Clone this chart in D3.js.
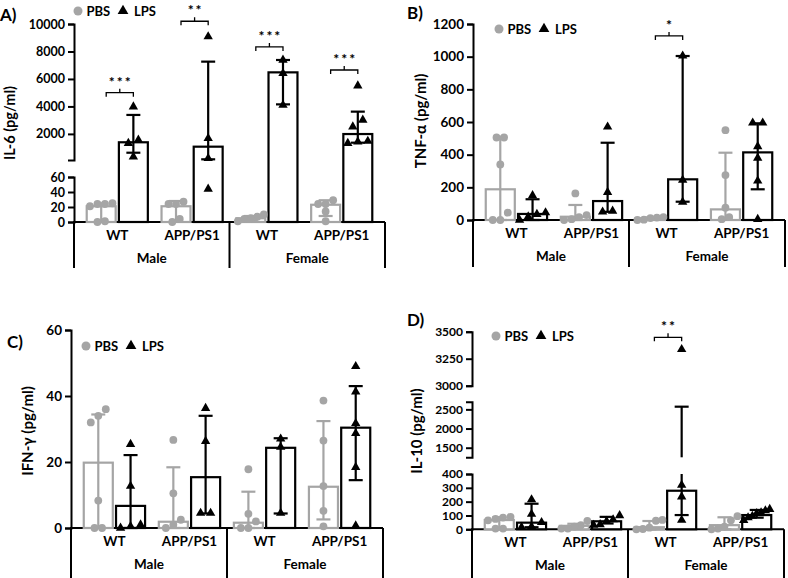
<!DOCTYPE html>
<html><head><meta charset="utf-8">
<script src="https://cdn.jsdelivr.net/npm/d3@7/dist/d3.min.js"></script>
<style>
body{margin:0;background:#fff}
svg{display:block}
text{font-family:Lato,"Open Sans","DejaVu Sans",sans-serif;font-weight:700}
</style></head><body>
<svg id="c" width="788" height="578"></svg>
<script>
// ---------- DATA ----------
const groupNames = ["WT","APP/PS1","WT","APP/PS1"];
const sexNames = ["Male","Female"];
const treatNames = ["PBS","LPS"];

// A) IL-6
const il6PBS = [21, 21, 5, 23];
const il6PBSErr = [[0,25],[2,28],[2,8],[8,29]];
const il6PBSPts = [[21,25,24,24,1,0],[24,27,24,0,4],[10,7,5,4,1],[24,29,24,14,1]];
const il6LPS = [1390, 1070, 6480, 1990];
const il6LPSErr = [[630,3380],[150,7260],[4150,7380],[1360,3620]];
const il6LPSPts = [[3980,1560,1320,340],[9080,1680,224,44],[7380,6410,4100],[5510,3010,2520,1320,1430,1480]];
const il6Sig = [[0,"***",5000],[1,"**",10200],[2,"***",8330],[3,"***",6650]];
const il6TicksLow = [0,20,40,60];
const il6TicksHigh = [2000,4000,6000,8000,10000];

// B) TNF-alpha
const tnfPBS = [188, 20, 10, 65];
const tnfPBSErr = [[0,510],[0,92],[2,16],[10,412]];
const tnfPBSPts = [[505,505,340,45,0,0],[163,30,18,5,0],[18,15,12,2,0],[550,275,75,18,5]];
const tnfLPS = [37, 116, 249, 414];
const tnfLPSErr = [[0,127],[50,473],[112,1004],[188,592]];
const tnfLPSPts = [[150,45,35,20,0],[570,170,55,50],[1005,245,110],[595,595,450,380,240,5]];
const tnfSig = [[2,"*",1127]];
const tnfTicks = [0,200,400,600,800,1000,1200];

// C) IFN-gamma
const ifnPBS = [19.8, 1.9, 1.6, 12.5];
const ifnPBSErr = [[0,34.4],[0,18.4],[0,11],[2.6,32.4]];
const ifnPBSPts = [[36,34,32,8.3,0,0],[26.7,10.5,2.5,1,0],[17.8,4.3,2,0,0],[38.6,26.5,12.7,5.2,0.5]];
const ifnLPS = [6.7, 15.4, 24.3, 30.4];
const ifnLPSErr = [[0,22.1],[4.4,34],[4.4,27.2],[14.5,43]];
const ifnLPSPts = [[25.4,12.7,1,0.5,0],[36.3,26.3,4.5,4.5],[27,24.5,4.5],[49,41.3,31.7,28.7,18.4,0.7]];
const ifnSig = [];
const ifnTicks = [0,20,40,60];

// D) IL-10
const il10PBS = [67, 25, 15, 30];
const il10PBSErr = [[0,88],[5,40],[0,60],[0,87]];
const il10PBSPts = [[75,90,65,85,5,5],[60,30,20,5,5],[68,62,12,2,0],[95,65,20,5,0]];
const il10LPS = [48, 58, 279, 103];
const il10LPSErr = [[15,185],[42,90],[103,2570],[84,140]];
const il10LPSPts = [[215,110,50,20,15],[100,70,58,35,30],[3337,320,236,67],[145,135,120,115,95,85,65]];
const il10Sig = [[2,"**",3448]];
const il10TicksLow = [0,100,200,300,400];
const il10TicksMid = [1500,2000,2500];
const il10TicksHigh = [3000,3250,3500];

// ---------- LAYOUT ----------
const panels = [
  {title:"A)", tx:0, ty:21, ylab:"IL-6 (pg/ml)", ylx:15, yly:123, ylFs:14.5, tickFs:12.5,
   x0:74, x1:385, bottom:268, leg:[78,11],
   yDomain:[0,60,100,10000], yRange:[222,177,160,24],
   segs:[{d:[0,60],t:il6TicksLow},{d:[100,10000],t:il6TicksHigh}],
   pbs:il6PBS, pbsErr:il6PBSErr, pbsPts:il6PBSPts, lps:il6LPS, lpsErr:il6LPSErr, lpsPts:il6LPSPts, sig:il6Sig},
  {title:"B)", tx:407, ty:19, ylab:"TNF-\u03b1  (pg/ml)", ylx:426, yly:121, ylFs:15, tickFs:13.5,
   x0:473, x1:785, bottom:267, leg:[499,29],
   yDomain:[0,1200], yRange:[220,24],
   segs:[{d:[0,1200],t:tnfTicks}],
   pbs:tnfPBS, pbsErr:tnfPBSErr, pbsPts:tnfPBSPts, lps:tnfLPS, lpsErr:tnfLPSErr, lpsPts:tnfLPSPts, sig:tnfSig},
  {title:"C)", tx:7, ty:348, ylab:"IFN-\u03b3 (pg/ml)", ylx:33, yly:431, ylFs:15, tickFs:13.5,
   x0:71, x1:383, bottom:578, leg:[86,346],
   yDomain:[0,60], yRange:[528,330],
   segs:[{d:[0,60],t:ifnTicks}],
   pbs:ifnPBS, pbsErr:ifnPBSErr, pbsPts:ifnPBSPts, lps:ifnLPS, lpsErr:ifnLPSErr, lpsPts:ifnLPSPts, sig:ifnSig},
  {title:"D)", tx:407, ty:326, ylab:"IL-10 (pg/ml)", ylx:422, yly:431, ylFs:15, tickFs:12,
   x0:472, x1:784, bottom:578, leg:[496,336],
   yDomain:[0,400,1250,2700,3000,3500], yRange:[529.3,474,457.3,401.7,385.7,331.7],
   segs:[{d:[0,400],t:il10TicksLow},{d:[1250,2700],t:il10TicksMid},{d:[3000,3500],t:il10TicksHigh}],
   pbs:il10PBS, pbsErr:il10PBSErr, pbsPts:il10PBSPts, lps:il10LPS, lpsErr:il10LPSErr, lpsPts:il10LPSPts, sig:il10Sig}
];

const GREY = "#a5a5a5";
const FONT = 'Lato,"Open Sans","DejaVu Sans",sans-serif';
const svg = d3.select("#c");
const triSym = d3.symbol().type(d3.symbolTriangle).size(38);

function spread(vals, y, diam, spacing, maxHalf){
  const pts = vals.map(v=>({v, py:y(v), dx:0}));
  const sorted = pts.slice().sort((a,b)=>a.py-b.py);
  const clusters=[]; let cur=[];
  sorted.forEach(p=>{
    if(cur.length && p.py - cur[cur.length-1].py >= diam){clusters.push(cur);cur=[];}
    cur.push(p);
  });
  if(cur.length) clusters.push(cur);
  clusters.forEach(c=>{
    const n=c.length; if(n<2) return;
    const s=Math.min(spacing, 2*maxHalf/(n-1));
    c.slice().sort((a,b)=>a.v-b.v).forEach((p,i)=>p.dx=(i-(n-1)/2)*s);
  });
  return pts;
}

function drawPanel(p){
  const g = svg.append("g");
  const y = d3.scaleLinear().domain(p.yDomain).range(p.yRange);
  const y0 = y(0);
  const xg = d3.scaleBand().domain(d3.range(4)).range([p.x0,p.x1]).paddingInner(0.183).paddingOuter(0.17);
  const xt = d3.scaleBand().domain(treatNames).range([0,xg.bandwidth()]).paddingInner(0.1);
  const bw = xt.bandwidth();
  const mid = (xg(1)+xg.bandwidth()+xg(2))/2;

  // y axis segments
  p.segs.forEach(s=>{
    const sc = d3.scaleLinear().domain(s.d).range([y(s.d[0]), y(s.d[1])]);
    const ax = d3.axisLeft(sc).tickValues(s.t).tickSize(6).tickSizeOuter(6).tickPadding(3).tickFormat(d3.format("d"));
    const a = g.append("g").attr("transform",`translate(${p.x0},0)`).call(ax);
    a.select(".domain").attr("stroke","#000").attr("stroke-width",2);
    a.selectAll(".tick line").attr("stroke","#000").attr("stroke-width",2);
    a.selectAll(".tick text").attr("fill","#000").attr("font-size",p.tickFs).attr("font-family",FONT).attr("font-weight",700);
  });
  // x axis & dividers
  g.append("line").attr("x1",p.x0-1).attr("x2",p.x1).attr("y1",y0).attr("y2",y0).attr("stroke","#000").attr("stroke-width",2);
  [p.x0, mid, p.x1].forEach(xx=>{
    g.append("line").attr("x1",xx).attr("x2",xx).attr("y1",y0).attr("y2",p.bottom).attr("stroke","#000").attr("stroke-width",2);
  });
  groupNames.forEach((n,i)=>{
    g.append("text").attr("x",xg(i)+xg.bandwidth()/2).attr("y",y0+18).attr("text-anchor","middle").attr("font-size",13.5).text(n);
  });
  sexNames.forEach((n,i)=>{
    const cx = i===0 ? (p.x0+mid)/2 : (mid+p.x1)/2;
    g.append("text").attr("x",cx).attr("y",y0+41).attr("text-anchor","middle").attr("font-size",13.5).text(n);
  });

  const segRanges = p.segs.map(s=>s.d);
  function pieces(lo,hi){
    const out=[];
    segRanges.forEach(([a,b])=>{
      const l=Math.max(lo, a===0?-Infinity:a), h=Math.min(hi,b);
      if(h>=l) out.push([l,h]);
    });
    return out;
  }

  const series = [
    {t:"PBS", vals:p.pbs, err:p.pbsErr, pts:p.pbsPts, col:GREY},
    {t:"LPS", vals:p.lps, err:p.lpsErr, pts:p.lpsPts, col:"#000"}
  ];
  series.forEach(s=>{
    s.vals.forEach((v,i)=>{
      const bx = xg(i)+xt(s.t);
      g.append("rect").attr("x",bx).attr("y",y(v)).attr("width",bw).attr("height",y0-y(v))
        .attr("fill","#fff").attr("stroke",s.col).attr("stroke-width",2.2);
    });
  });
  series.forEach(s=>{
    s.err.forEach(([lo,hi],i)=>{
      const cx = xg(i)+xt(s.t)+bw/2;
      pieces(lo,hi).forEach(([a,b])=>{
        g.append("line").attr("x1",cx).attr("x2",cx).attr("y1",y(a)).attr("y2",y(b)).attr("stroke",s.col).attr("stroke-width",2.2);
      });
      [lo,hi].forEach(v=>{
        g.append("line").attr("x1",cx-7).attr("x2",cx+7).attr("y1",y(v)).attr("y2",y(v)).attr("stroke",s.col).attr("stroke-width",2.2);
      });
    });
  });
  series.forEach(s=>{
    s.pts.forEach((arr,i)=>{
      const cx = xg(i)+xt(s.t)+bw/2;
      const pl = s.t==="PBS" ? spread(arr,y,7.5,7.5,13) : spread(arr,y,7.5,10,13);
      pl.forEach(pt=>{
        if(s.t==="PBS"){
          g.append("circle").attr("cx",cx+pt.dx).attr("cy",pt.py).attr("r",3.9).attr("fill",GREY);
        } else {
          g.append("path").attr("d",triSym).attr("transform",`translate(${cx+pt.dx},${pt.py})`).attr("fill","#000");
        }
      });
    });
  });
  // significance
  p.sig.forEach(([gi,lab,at])=>{
    const xa = xg(gi)+xt("PBS")+bw/2+5, xb = xg(gi)+xt("LPS")+bw/2;
    const yy = y(at);
    g.append("path").attr("d",`M${xa},${yy+4}V${yy}H${xb}V${yy+4}M${(xa+xb)/2},${yy}V${yy-4}`)
      .attr("fill","none").attr("stroke","#000").attr("stroke-width",1.3);
    g.append("text").attr("x",(xa+xb)/2+1).attr("y",yy-6).attr("text-anchor","middle").attr("font-size",14)
      .attr("letter-spacing",2).text(lab);
  });
  // legend
  const [lx,ly]=p.leg;
  g.append("circle").attr("cx",lx).attr("cy",ly).attr("r",4.5).attr("fill",GREY);
  g.append("text").attr("x",lx+8.5).attr("y",ly+4.5).attr("font-size",13).text("PBS");
  g.append("path").attr("d",d3.symbol().type(d3.symbolTriangle).size(50)).attr("transform",`translate(${lx+45},${ly})`).attr("fill","#000");
  g.append("text").attr("x",lx+56).attr("y",ly+4.5).attr("font-size",13).text("LPS");
  // y label
  g.append("text").attr("transform",`translate(${p.ylx},${p.yly}) rotate(-90)`).attr("text-anchor","middle")
    .attr("font-size",p.ylFs).text(p.ylab);
  // title
  g.append("text").attr("x",p.tx).attr("y",p.ty).attr("font-size",17).text(p.title);
}
panels.forEach(drawPanel);
</script>
</body></html>
